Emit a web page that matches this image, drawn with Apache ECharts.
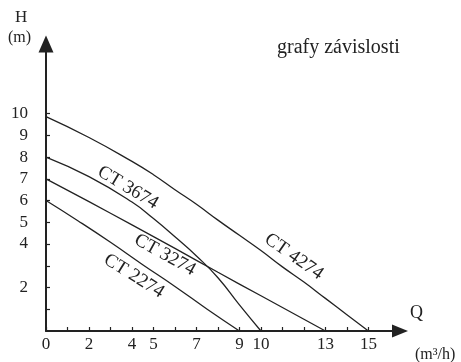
<!DOCTYPE html>
<html>
<head>
<meta charset="utf-8">
<script src="https://cdn.jsdelivr.net/npm/echarts@6/dist/echarts.min.js"></script>
<style>
  html, body { margin: 0; padding: 0; background: #fff; }
  #chart { width: 461px; height: 362px; }
</style>
</head>
<body>
<div id="chart"></div>
<script>
// axis ticks / labels (Q in m3/h, H in m)
const qTicks = [0, 1, 2, 3, 4, 5, 6, 7, 8, 9, 10, 11, 12, 13, 14, 15]
const qLabels = [0, 2, 4, 5, 7, 9, 10, 13, 15]
const hTicks = [1, 2, 3, 4, 5, 6, 7, 8, 9, 10]
const hLabels = [2, 4, 5, 6, 7, 8, 9, 10]

// pump curves, [Q, H]
const ct4274 = [[0, 9.86], [2, 8.9], [4, 7.8], [5, 7.19], [6, 6.5], [7, 5.83], [8, 5.1], [9, 4.4], [10, 3.7], [11, 2.95], [12, 2.25], [13, 1.5], [14, 0.75], [15, 0]]
const ct3674 = [[0, 8], [2, 7.1], [4, 5.93], [5, 5.17], [6, 4.33], [7, 3.45], [8, 2.45], [9, 1.2], [10, 0]]
const ct3274 = [[0, 7], [2, 5.95], [4, 4.88], [6, 3.8], [8, 2.7], [10, 1.62], [12, 0.54], [13, 0]]
const ct2274 = [[0, 6], [1.5, 5.06], [3, 4.08], [4.5, 3.05], [6, 2.05], [7.5, 1.0], [9, 0]]

const curveNames = ['CT 4274', 'CT 3674', 'CT 3274', 'CT 2274']
const curveData = [ct4274, ct3674, ct3274, ct2274]
// where each curve name sits [Q, H] and its slant in degrees
const labelAnchors = [[11.53, 3.42], [3.81, 6.59], [5.53, 3.5], [4.09, 2.53]]
const labelAngles = [35, 31, 29, 32]

const serif = '"Liberation Serif", "DejaVu Serif", serif'
const ink = '#222'

const chart = echarts.init(document.getElementById('chart'), null, { renderer: 'canvas' })

chart.setOption({
  animation: false,
  backgroundColor: '#fff',
  grid: { left: 46, right: 61, top: 44, bottom: 31, containLabel: false },
  xAxis: {
    type: 'value',
    min: 0,
    max: 16.47,
    interval: 1,
    splitLine: { show: false },
    axisLine: {
      lineStyle: { color: ink, width: 2 },
      symbol: ['none', 'triangle'],
      symbolSize: [13, 16],
    },
    axisTick: { show: true, inside: true, length: 4, lineStyle: { color: ink, width: 1.2 }, customValues: qTicks },
    axisLabel: {
      customValues: qLabels,
      color: ink,
      fontFamily: serif,
      fontSize: 17,
      margin: 5,
    },
  },
  yAxis: {
    type: 'value',
    min: 0,
    max: 13.2,
    interval: 1,
    splitLine: { show: false },
    axisLine: {
      lineStyle: { color: ink, width: 2 },
      symbol: ['none', 'triangle'],
      symbolSize: [15, 17],
    },
    axisTick: { show: true, inside: true, length: 4, lineStyle: { color: ink, width: 1.2 }, customValues: hTicks },
    axisLabel: {
      customValues: hLabels,
      color: ink,
      fontFamily: serif,
      fontSize: 17,
      margin: 18,
    },
  },
  series: curveData.map((data, i) => ({
    name: curveNames[i],
    type: 'line',
    data: data,
    smooth: true,
    symbol: 'none',
    lineStyle: { color: ink, width: 1.3 },
  })),
})

const texts = [
  { type: 'text', left: 277, top: 38, style: { text: 'grafy závislosti', font: '20px ' + serif, fill: ink } },
  { type: 'text', left: 15, top: 9, style: { text: 'H', font: '17px ' + serif, fill: ink } },
  { type: 'text', left: 8, top: 30, style: { text: '(m)', font: '16px ' + serif, fill: ink } },
  { type: 'text', left: 410, top: 304, style: { text: 'Q', font: '18px ' + serif, fill: ink } },
  { type: 'text', left: 415, top: 347, style: { text: '(m³/h)', font: '16px ' + serif, fill: ink } },
]

const curveLabels = labelAnchors.map((pt, i) => {
  const [x, y] = chart.convertToPixel({ gridIndex: 0 }, pt)
  return {
    type: 'text',
    x: x,
    y: y,
    rotation: -labelAngles[i] * Math.PI / 180,
    style: {
      text: curveNames[i],
      font: '19px ' + serif,
      fill: ink,
      align: 'center',
      verticalAlign: 'middle',
    },
  }
})

chart.setOption({ graphic: texts.concat(curveLabels) })
</script>
</body>
</html>
